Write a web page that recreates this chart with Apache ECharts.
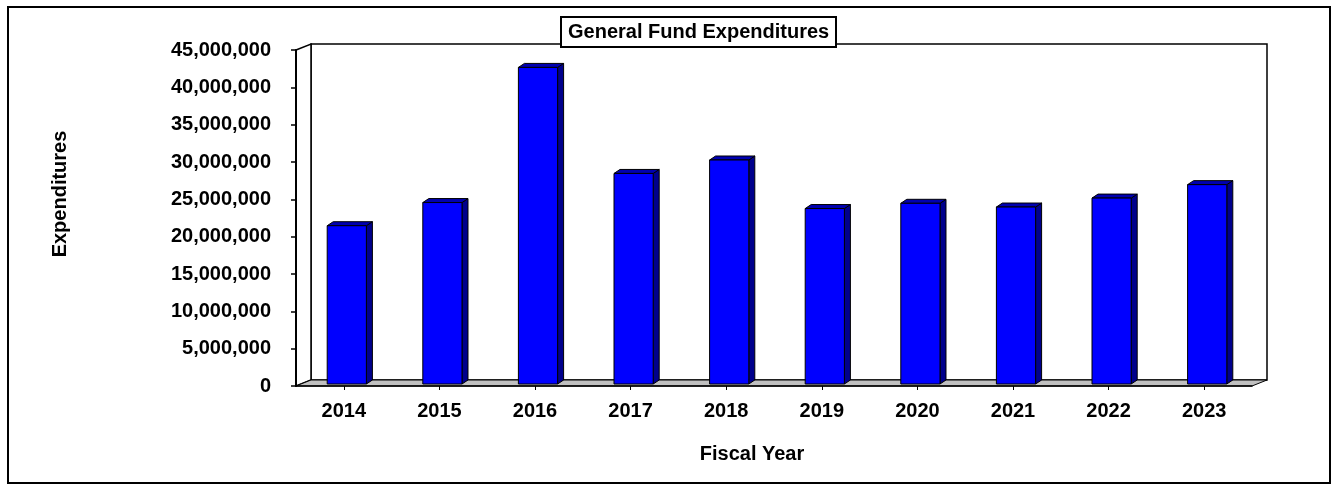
<!DOCTYPE html>
<html>
<head>
<meta charset="utf-8">
<title>General Fund Expenditures</title>
<script src="https://cdn.jsdelivr.net/npm/echarts@6/dist/echarts.min.js"></script>
<style>
  html, body { margin: 0; padding: 0; background: #ffffff; }
  #chart { width: 1336px; height: 490px; }
</style>
</head>
<body>
<div id="chart"></div>
<script>
// Fiscal years and General Fund expenditures (dollars)
const years = ['2014', '2015', '2016', '2017', '2018', '2019', '2020', '2021', '2022', '2023'];
const expenditures = [21200000, 24300000, 42400000, 28200000, 30000000, 23500000, 24200000, 23700000, 24900000, 26700000];

// Value axis range and step
const yMin = 0;
const yMax = 45000000;
const yStep = 5000000;

// Front plane of the plot (pixels)
const GRID = { left: 296, top: 50, width: 956, height: 336 };
// Depth offset of the back wall (pseudo 3D)
const DEPTH_X = 15, DEPTH_Y = -6;
// Bar front face offset (bars sit mid-depth) and bar thickness
const BAR_OX = 3, BAR_OY = -2;
const BAR_DX = 6, BAR_DY = -4;
const BAR_RATIO = 0.41;

const FONT = '"Liberation Sans", Arial, sans-serif';

const chart = echarts.init(document.getElementById('chart'), null, { renderer: 'canvas' });

const gx0 = GRID.left, gx1 = GRID.left + GRID.width;
const gy0 = GRID.top, gy1 = GRID.top + GRID.height;

function renderBar(params, api) {
  const i = api.value(0);
  const v = api.value(1);
  const topPt = api.coord([i, v]);
  const basePt = api.coord([i, 0]);
  const band = api.size([1, 0])[0];
  const w = band * BAR_RATIO;
  const xl = topPt[0] - w / 2 + BAR_OX;
  const xr = xl + w;
  const yt = topPt[1] + BAR_OY;
  const yb = basePt[1] + BAR_OY;
  const edge = { stroke: '#000000', lineWidth: 1 };
  return {
    type: 'group',
    children: [
      {
        type: 'polygon',
        shape: { points: [[xr, yt], [xr + BAR_DX, yt + BAR_DY], [xr + BAR_DX, yb + BAR_DY], [xr, yb]] },
        style: Object.assign({ fill: '#00008c' }, edge)
      },
      {
        type: 'polygon',
        shape: { points: [[xl, yt], [xl + BAR_DX, yt + BAR_DY], [xr + BAR_DX, yt + BAR_DY], [xr, yt]] },
        style: Object.assign({ fill: '#0000b0' }, edge)
      },
      {
        type: 'rect',
        shape: { x: xl, y: yt, width: w, height: yb - yt },
        style: Object.assign({ fill: '#0000ff' }, edge)
      }
    ]
  };
}

const option = {
  animation: false,
  backgroundColor: '#ffffff',
  title: {
    text: 'General Fund Expenditures',
    left: 561,
    top: 17,
    z: 20,
    padding: [5, 7, 5, 7],
    backgroundColor: '#ffffff',
    borderColor: '#000000',
    borderWidth: 2,
    textStyle: { fontFamily: FONT, fontSize: 20, fontWeight: 'bold', color: '#000000', lineHeight: 20 }
  },
  grid: { left: GRID.left, top: GRID.top, width: GRID.width, height: GRID.height, containLabel: false },
  xAxis: {
    type: 'category',
    data: years,
    name: 'Fiscal Year',
    nameLocation: 'middle',
    nameGap: 58,
    nameTextStyle: { fontFamily: FONT, fontSize: 20, fontWeight: 'bold', color: '#000000', padding: [0, 44, 0, 0] },
    axisLine: { show: true, lineStyle: { color: '#000000', width: 1.5 } },
    axisTick: { show: true, alignWithLabel: true, length: 4, lineStyle: { color: '#000000' } },
    axisLabel: { margin: 15, fontFamily: FONT, fontSize: 20, fontWeight: 'bold', color: '#000000' },
    splitLine: { show: false }
  },
  yAxis: {
    type: 'value',
    min: yMin,
    max: yMax,
    interval: yStep,
    name: 'Expenditures',
    nameLocation: 'middle',
    nameGap: 226,
    nameRotate: 90,
    nameTextStyle: { fontFamily: FONT, fontSize: 20, fontWeight: 'bold', color: '#000000', padding: [0, 0, 0, 48] },
    axisLine: { show: true, lineStyle: { color: '#000000', width: 2 } },
    axisTick: { show: true, length: 5, lineStyle: { color: '#000000', width: 1.5 } },
    axisLabel: {
      margin: 25,
      fontFamily: FONT, fontSize: 20, fontWeight: 'bold', color: '#000000',
      formatter: (v) => v.toLocaleString('en-US')
    },
    splitLine: { show: false }
  },
  graphic: [
    // back wall
    {
      type: 'rect', z: 0, silent: true,
      shape: { x: gx0 + DEPTH_X, y: gy0 + DEPTH_Y, width: GRID.width, height: GRID.height },
      style: { fill: '#ffffff', stroke: '#000000', lineWidth: 1.5 }
    },
    // left wall
    {
      type: 'polygon', z: 0, silent: true,
      shape: { points: [[gx0, gy0], [gx0 + DEPTH_X, gy0 + DEPTH_Y], [gx0 + DEPTH_X, gy1 + DEPTH_Y], [gx0, gy1]] },
      style: { fill: '#ffffff', stroke: '#000000', lineWidth: 1.5 }
    },
    // floor
    {
      type: 'polygon', z: 0, silent: true,
      shape: { points: [[gx0, gy1], [gx1, gy1], [gx1 + DEPTH_X, gy1 + DEPTH_Y], [gx0 + DEPTH_X, gy1 + DEPTH_Y]] },
      style: { fill: '#c0c0c0', stroke: '#000000', lineWidth: 1 }
    },
    // chart frame
    {
      type: 'rect', z: 100, silent: true,
      shape: { x: 8, y: 7, width: 1322, height: 476 },
      style: { fill: 'none', stroke: '#000000', lineWidth: 2 }
    }
  ],
  series: [
    {
      type: 'custom',
      name: 'Expenditures',
      renderItem: renderBar,
      encode: { x: 0, y: 1 },
      z: 5,
      data: years.map((y, i) => [i, expenditures[i]])
    }
  ]
};

chart.setOption(option);
</script>
</body>
</html>
